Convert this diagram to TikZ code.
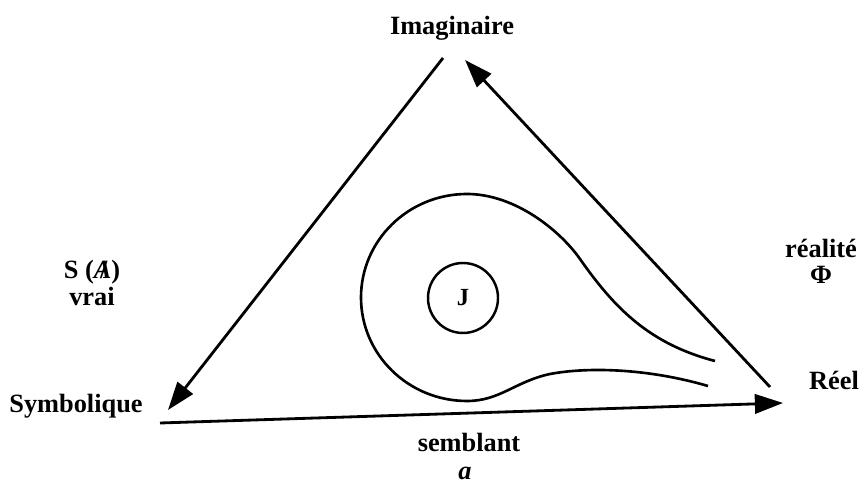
\documentclass[tikz,border=0pt]{standalone}
\usepackage{fontspec}
\setmainfont{Liberation Serif}
\usetikzlibrary{arrows.meta}

\tikzset{
  etichetta/.style={font=\fontsize{15}{17}\selectfont\bfseries, inner sep=0pt, anchor=base},
  lato/.style={line width=1.6pt, -{Triangle[length=16pt, width=11pt]}},
  goccia/.style={line width=1.5pt}
}
\newcommand{\Abarrata}{\ooalign{\textit{A}\cr\hidewidth\kern0.08em/\hidewidth}}

\begin{document}
\begin{tikzpicture}
        \useasboundingbox (0,0) rectangle (17.3,9.68);
        % vertici del triangolo
        \coordinate (imgS) at (8.86,8.52);
        \coordinate (imgD) at (9.30,8.48);
        \coordinate (simT) at (3.36,1.48);
        \coordinate (simB) at (3.20,1.22);
        \coordinate (reeS) at (15.40,1.94);
        \coordinate (reeB) at (15.66,1.62);

        % etichette dei vertici
        \node[etichetta] (imm) at (9.04,8.98) {Imaginaire};
        \node[etichetta] (sim) at (1.52,1.42) {Symbolique};
        \node[etichetta] (ree) at (16.68,1.88) {Réel};

        % etichette dei lati
        \node[etichetta] (sa)   at (1.84,4.10) {S (\Abarrata)};
        \node[etichetta] (vrai) at (1.84,3.56) {vrai};
        \node[etichetta] (real) at (16.42,4.52) {réalité};
        \node[etichetta] (phi)  at (16.42,4.00) {Φ};
        \node[etichetta] (semb) at (9.38,0.64) {semblant};
        \node[etichetta, font=\fontsize{15}{17}\selectfont\bfseries\itshape] (pa) at (9.30,0.08) {a};

        % lati con frecce
        \draw[lato] (imgS) -- (simT);
        \draw[lato] (reeS) -- (imgD);
        \draw[lato] (simB) -- (reeB);

        % goccia: coda alta, bulbo, coda bassa
        \draw[goccia] (14.30,2.46) .. controls (13.0,2.8) and (12.3,3.5) .. (11.6,4.5)
          .. controls (11.2,5.07) and (10.3,5.80) .. (9.34,5.80)
          arc[start angle=90, end angle=270, x radius=2.12cm, y radius=2.07cm]
          .. controls (10.0,1.66) and (10.3,2.05) .. (11.0,2.2)
          .. controls (11.8,2.35) and (13.0,2.3) .. (14.16,1.96);
        \node[circle, draw, line width=1.4pt, minimum size=1.4cm, inner sep=0pt,
              font=\fontsize{14}{16}\selectfont\bfseries] (J) at (9.26,3.72) {J};
\end{tikzpicture}
\end{document}
